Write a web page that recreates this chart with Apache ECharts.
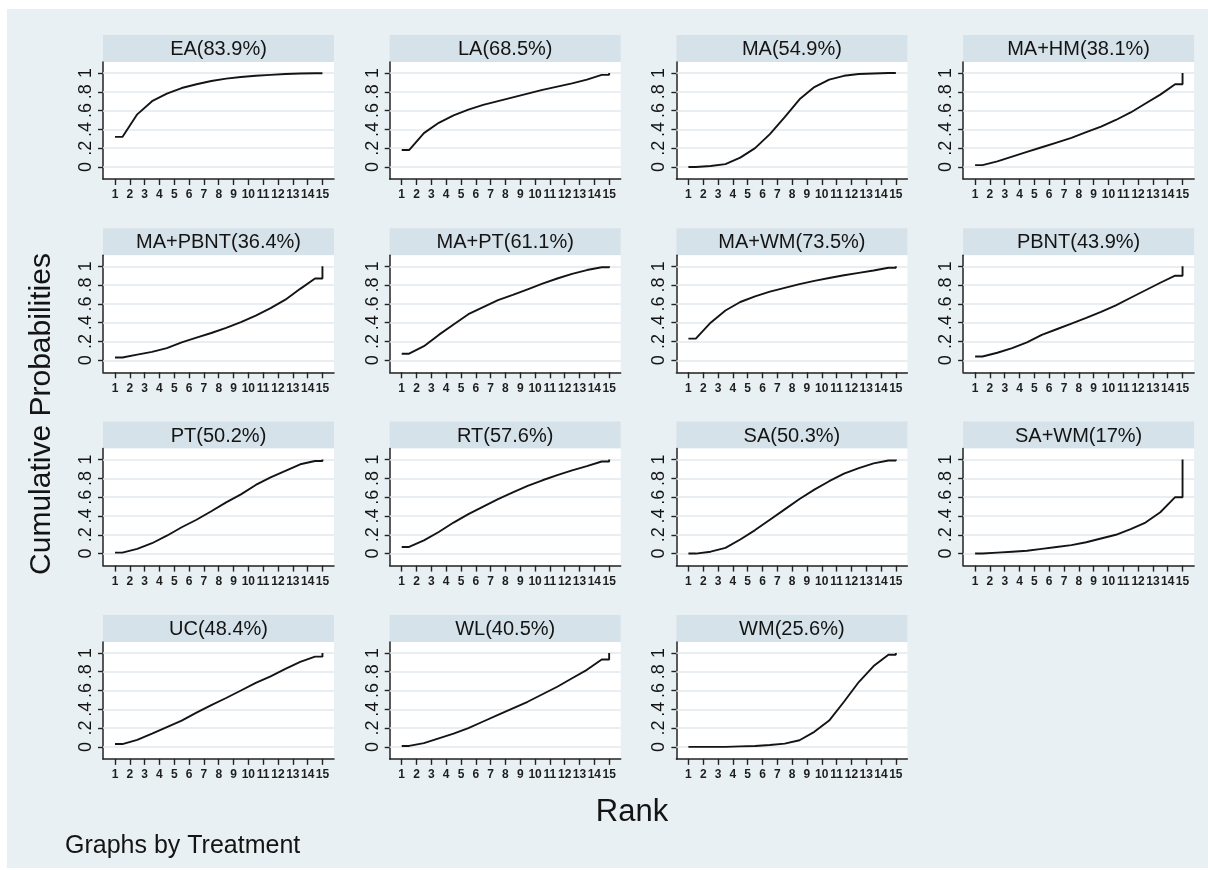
<!DOCTYPE html>
<html>
<head>
<meta charset="utf-8">
<script src="https://cdn.jsdelivr.net/npm/echarts@6/dist/echarts.min.js"></script>
<style>
  html, body { margin: 0; padding: 0; background: #ffffff; }
  #chart { width: 1208px; height: 870px; }
</style>
</head>
<body>
<div id="chart"></div>
<script>
// Ranks on the x axis and probability ticks on the y axis
const ranks = [1, 2, 3, 4, 5, 6, 7, 8, 9, 10, 11, 12, 13, 14, 15];
const yTicks = [0, 0.2, 0.4, 0.6, 0.8, 1];
const yTickLabels = ['0', '.2', '.4', '.6', '.8', '1'];

// Panel headings (treatment and SUCRA)
const treatmentLabels = [
  'EA(83.9%)', 'LA(68.5%)', 'MA(54.9%)', 'MA+HM(38.1%)',
  'MA+PBNT(36.4%)', 'MA+PT(61.1%)', 'MA+WM(73.5%)', 'PBNT(43.9%)',
  'PT(50.2%)', 'RT(57.6%)', 'SA(50.3%)', 'SA+WM(17%)',
  'UC(48.4%)', 'WL(40.5%)', 'WM(25.6%)'
];

// Cumulative probability of being ranked at or better than each rank (ranks 1..15)
const cumEA     = [0.32, 0.56, 0.70, 0.78, 0.84, 0.88, 0.915, 0.94, 0.957, 0.97, 0.98, 0.99, 0.995, 0.998, 1];
const cumLA     = [0.18, 0.36, 0.47, 0.55, 0.61, 0.66, 0.70, 0.74, 0.78, 0.82, 0.855, 0.89, 0.93, 0.98, 1];
const cumMA     = [0.00, 0.01, 0.03, 0.10, 0.20, 0.35, 0.53, 0.72, 0.85, 0.93, 0.97, 0.99, 0.995, 1.0, 1];
const cumMAHM   = [0.02, 0.06, 0.11, 0.16, 0.21, 0.26, 0.31, 0.37, 0.43, 0.50, 0.58, 0.675, 0.77, 0.88, 1];
const cumMAPBNT = [0.03, 0.06, 0.09, 0.13, 0.19, 0.24, 0.29, 0.345, 0.405, 0.475, 0.555, 0.645, 0.76, 0.87, 1];
const cumMAPT   = [0.07, 0.15, 0.27, 0.38, 0.49, 0.565, 0.64, 0.695, 0.755, 0.815, 0.87, 0.92, 0.96, 0.99, 1];
const cumMAWM   = [0.23, 0.40, 0.53, 0.62, 0.68, 0.73, 0.77, 0.81, 0.845, 0.875, 0.905, 0.93, 0.955, 0.985, 1];
const cumPBNT   = [0.04, 0.08, 0.13, 0.19, 0.27, 0.33, 0.39, 0.45, 0.515, 0.585, 0.665, 0.745, 0.825, 0.90, 1];
const cumPT     = [0.01, 0.05, 0.11, 0.19, 0.28, 0.36, 0.45, 0.545, 0.63, 0.73, 0.81, 0.88, 0.95, 0.985, 1];
const cumRT     = [0.07, 0.14, 0.23, 0.33, 0.42, 0.50, 0.58, 0.65, 0.72, 0.78, 0.835, 0.885, 0.93, 0.98, 1];
const cumSA     = [0.00, 0.02, 0.06, 0.15, 0.25, 0.36, 0.47, 0.58, 0.68, 0.77, 0.85, 0.91, 0.96, 0.99, 1];
const cumSAWM   = [0.00, 0.01, 0.02, 0.03, 0.05, 0.07, 0.09, 0.12, 0.16, 0.20, 0.26, 0.33, 0.44, 0.60, 1];
const cumUC     = [0.03, 0.075, 0.14, 0.21, 0.28, 0.365, 0.445, 0.52, 0.60, 0.68, 0.75, 0.83, 0.905, 0.96, 1];
const cumWL     = [0.01, 0.04, 0.09, 0.14, 0.20, 0.27, 0.34, 0.41, 0.48, 0.56, 0.64, 0.73, 0.82, 0.93, 1];
const cumWM     = [0.00, 0.00, 0.00, 0.005, 0.01, 0.02, 0.035, 0.07, 0.16, 0.28, 0.48, 0.69, 0.86, 0.98, 1];

const cumulativeProbs = [
  cumEA, cumLA, cumMA, cumMAHM,
  cumMAPBNT, cumMAPT, cumMAWM, cumPBNT,
  cumPT, cumRT, cumSA, cumSAWM,
  cumUC, cumWL, cumWM
];

// Stata-style cumulative ranking curve: flat lead-in at rank 1, vertices at
// half ranks, flat tail and a jump to the final value at the last rank.
function rankCurve(vals) {
  const n = vals.length;
  const pts = [[ranks[0], vals[0]], [ranks[0] + 0.5, vals[0]]];
  for (let k = 1; k < n - 1; k++) pts.push([ranks[k] + 0.5, vals[k]]);
  pts.push([ranks[n - 1], vals[n - 2]], [ranks[n - 1], vals[n - 1]]);
  return pts;
}

const FONT = '"Liberation Sans", Arial, sans-serif';
const INK = '#141414';
const BG = '#e9f0f3';
const STRIP = '#d6e2e9';
const GRIDLINE = '#e0e8ee';

// Panel layout (4 columns)
const COLS = 4;
const left0 = 103, dx = 286.7;
const top0 = 35, dy = 193.3;
const panelW = 231, stripH = 27, plotH = 117;

const grids = [], xAxes = [], yAxes = [], series = [], graphics = [];

graphics.push({
  type: 'rect', z: -100, silent: true,
  shape: { x: 7, y: 9, width: 1201, height: 859 },
  style: { fill: BG }
});

cumulativeProbs.forEach((vals, i) => {
  const col = i % COLS, row = Math.floor(i / COLS);
  const left = left0 + col * dx;
  const stripTop = top0 + row * dy;
  const plotTop = stripTop + stripH;

  graphics.push({
    type: 'rect', z: -50, silent: true,
    shape: { x: left, y: stripTop, width: panelW, height: stripH },
    style: { fill: STRIP }
  });
  graphics.push({
    type: 'text', z: 10, silent: true,
    x: left + panelW / 2, y: stripTop + stripH / 2 + 1,
    style: { text: treatmentLabels[i], fill: INK, font: '20px ' + FONT, align: 'center', verticalAlign: 'middle' }
  });

  grids.push({
    left: left, top: plotTop, width: panelW, height: plotH,
    show: true, backgroundColor: '#ffffff', borderWidth: 0
  });

  xAxes.push({
    gridIndex: i, type: 'value', min: 0.19, max: 15.78,
    axisLine: { show: true, onZero: false, lineStyle: { color: '#222222', width: 1.5 } },
    axisTick: { show: true, length: 6, customValues: ranks, lineStyle: { color: '#222222', width: 1.4 } },
    axisLabel: { customValues: ranks, fontSize: 12, fontWeight: 'bold', color: '#1e1e1e', margin: 10, fontFamily: FONT },
    splitLine: { show: false }
  });

  yAxes.push({
    gridIndex: i, type: 'value', min: -0.128, max: 1.117,
    axisLine: { show: true, onZero: false, lineStyle: { color: '#222222', width: 1.5 } },
    axisTick: { show: true, length: 5, customValues: yTicks, lineStyle: { color: '#222222', width: 1.4 } },
    axisLabel: {
      customValues: yTicks, rotate: 90, fontSize: 18, color: INK, margin: 8, fontFamily: FONT,
      formatter: v => yTickLabels[yTicks.findIndex(t => Math.abs(t - v) < 1e-6)]
    },
    splitLine: { show: false }
  });

  series.push({
    type: 'line', xAxisIndex: i, yAxisIndex: i,
    data: rankCurve(vals),
    symbol: 'none', showSymbol: false,
    lineStyle: { color: INK, width: 1.9 },
    z: 4,
    markLine: {
      z: 1, silent: true, symbol: 'none', label: { show: false },
      lineStyle: { color: GRIDLINE, width: 1.5, type: 'solid' },
      emphasis: { disabled: true },
      data: yTicks.map(v => ({ yAxis: v }))
    }
  });
});

// Overall axis titles and note
graphics.push({
  type: 'text', silent: true, x: 42, y: 414, rotation: Math.PI / 2,
  style: { text: 'Cumulative Probabilities', fill: INK, font: '30px ' + FONT, align: 'center', verticalAlign: 'middle' }
});
graphics.push({
  type: 'text', silent: true, x: 632, y: 812,
  style: { text: 'Rank', fill: INK, font: '31px ' + FONT, align: 'center', verticalAlign: 'middle' }
});
graphics.push({
  type: 'text', silent: true, x: 65, y: 846,
  style: { text: 'Graphs by Treatment', fill: INK, font: '25px ' + FONT, align: 'left', verticalAlign: 'middle' }
});

const chart = echarts.init(document.getElementById('chart'), null, { renderer: 'canvas' });
chart.setOption({
  backgroundColor: '#ffffff',
  animation: false,
  grid: grids,
  xAxis: xAxes,
  yAxis: yAxes,
  series: series,
  graphic: { elements: graphics }
});
</script>
</body>
</html>
